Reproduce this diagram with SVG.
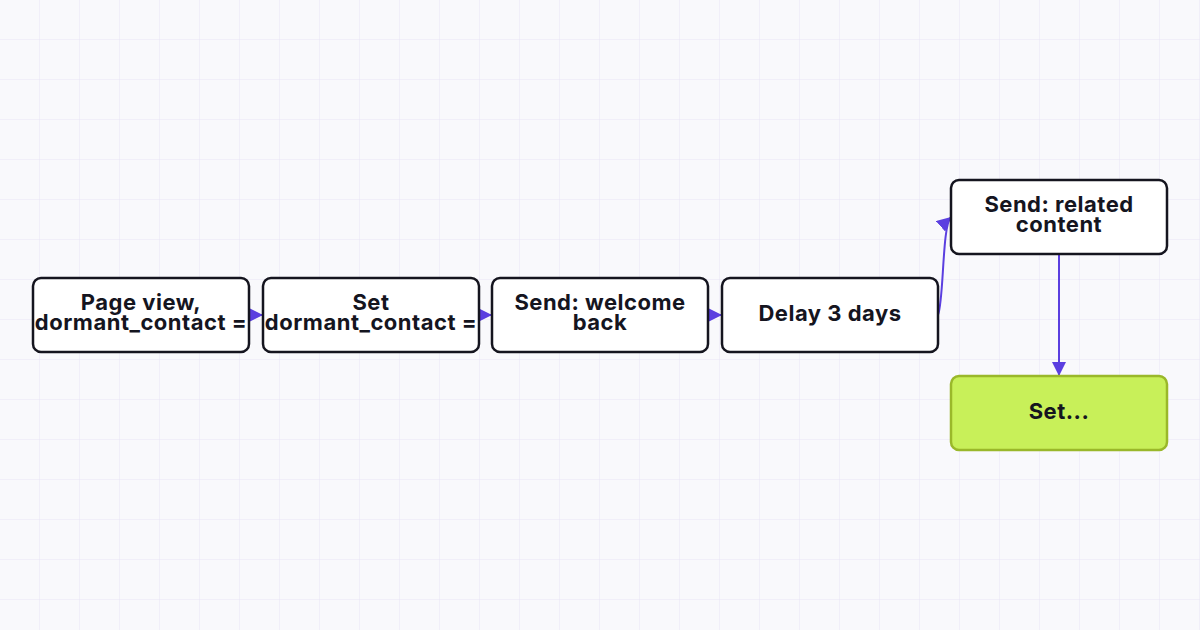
<svg xmlns="http://www.w3.org/2000/svg" width="1200" height="630" viewBox="0 0 1200 630">
<defs>
<pattern id="grid" width="40" height="40" patternUnits="userSpaceOnUse"><path d="M40 0V40M0 40H40" fill="none" stroke="#e8e5f7" stroke-width="1"/></pattern>
<marker id="arr" viewBox="0 0 10 10" refX="10" refY="5" markerWidth="7" markerHeight="7" orient="auto" markerUnits="strokeWidth"><path d="M0 0L10 5L0 10z" fill="#5b3fe0"/></marker>
<style>
.n rect{fill:#fff;stroke:#15151f;stroke-width:2.5}
.n text{font-family:Inter,"Liberation Sans",sans-serif;font-weight:700;font-size:22px;letter-spacing:0.5px;fill:#15151f;text-anchor:middle}
.c path{fill:none;stroke:#5b3fe0;stroke-width:2;marker-end:url(#arr)}
</style>
</defs>
<rect width="1200" height="630" fill="#f9f9fc"/>
<rect width="1200" height="630" fill="url(#grid)"/>
<g class="c">
<path d="M249 315H263"/>
<path d="M479 315H492"/>
<path d="M708 315H722"/>
<path d="M938 315C944 300 942 225 951 217"/>
<path d="M1059 254V376"/>
</g>
<g id="n1" class="n"><rect x="33" y="278" width="216" height="74" rx="8"/><text x="141" y="310">Page view,</text><text x="141" y="330">dormant_contact =</text></g>
<g id="n2" class="n"><rect x="263" y="278" width="216" height="74" rx="8"/><text x="371" y="310">Set</text><text x="371" y="330">dormant_contact =</text></g>
<g id="n3" class="n"><rect x="492" y="278" width="216" height="74" rx="8"/><text x="600" y="310">Send: welcome</text><text x="600" y="330">back</text></g>
<g id="n4" class="n"><rect x="722" y="278" width="216" height="74" rx="8"/><text x="830" y="321">Delay 3 days</text></g>
<g id="n5" class="n"><rect x="951" y="180" width="216" height="74" rx="8"/><text x="1059" y="212">Send: related</text><text x="1059" y="232">content</text></g>
<g id="n6" class="n"><rect x="951" y="376" width="216" height="74" rx="8" style="fill:#c8f059;stroke:#9ab82a"/><text x="1059" y="419">Set...</text></g>
</svg>
